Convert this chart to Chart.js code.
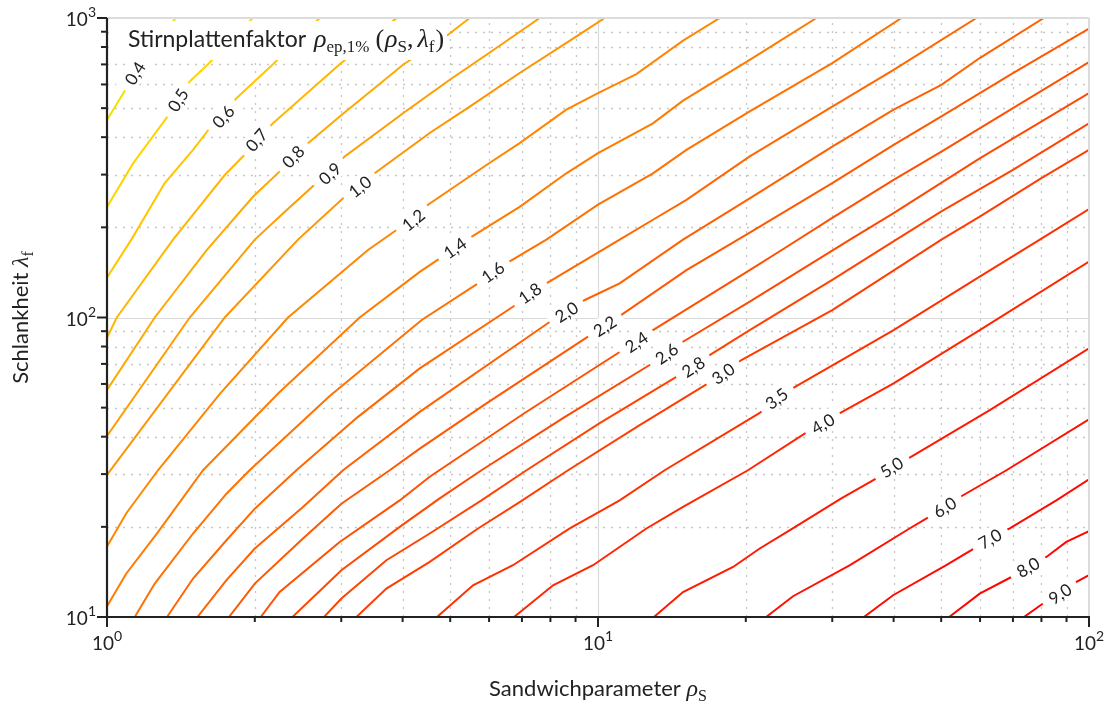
<!DOCTYPE html>
<html>
<head>
<meta charset="utf-8">
<script src="https://cdn.jsdelivr.net/npm/chart.js@4.4.1/dist/chart.umd.min.js"></script>
<style>
  html, body { margin: 0; padding: 0; background: #fff; }
</style>
</head>
<body>
<canvas id="chartStirnplatte" width="1107" height="702"></canvas>
<script>
// Höhenlinien des Stirnplattenfaktors rho_ep,1% über rho_S (x) und lambda_f (y)
const levels = [0.4, 0.5, 0.6, 0.7, 0.8, 0.9, 1.0, 1.2, 1.4, 1.6, 1.8, 2.0, 2.2, 2.4, 2.6, 2.8, 3.0, 3.5, 4.0, 5.0, 6.0, 7.0, 8.0, 9.0];
const levelLabels = levels.map(v => v.toFixed(1).replace('.', ','));

// je Linie: Paare [rho_S, lambda_f]
const iso04 = [[1, 457], [1.095, 583], [1.139, 655], [1.38, 1000]];
const iso05 = [[1, 234], [1.13, 327], [1.331, 471], [1.393, 533], [1.474, 614], [1.606, 701], [1.98, 1000]];
const iso06 = [[1, 136], [1.121, 182], [1.311, 281], [1.497, 363], [1.619, 429], [1.723, 469], [1.835, 540], [2.178, 701], [2.712, 1000]];
const iso07 = [[1, 85.6], [1.047, 100], [1.363, 182], [1.737, 299], [1.922, 354], [2.015, 392], [2.178, 445], [2.978, 701], [3.89, 1000]];
const iso08 = [[1, 57.3], [1.251, 100], [1.596, 168], [1.983, 253], [2.301, 319], [2.392, 345], [2.567, 382], [2.978, 469], [4.009, 698], [4.95, 879], [5.48, 1000]];
const iso09 = [[1, 40.2], [1.474, 100], [2.0, 182], [2.32, 228], [2.67, 281], [2.842, 303], [3.049, 345], [4.009, 481], [4.99, 622], [6.0, 764], [7.61, 1000]];
const iso10 = [[1, 29.8], [1.737, 100], [2.449, 182], [3.049, 253], [3.271, 274], [3.509, 303], [4.542, 413], [5.48, 506], [6.925, 655], [9.04, 868], [10.32, 1000]];
const iso12 = [[1, 17.2], [1.095, 22.2], [1.27, 30.9], [1.696, 55.5], [2.337, 100], [3.401, 168], [3.886, 196], [4.201, 212], [4.506, 238], [5.927, 323], [6.925, 382], [8.62, 494], [10.0, 561], [11.97, 650], [14.9, 840], [17.7, 1000]];
const iso14 = [[1, 10.86], [1.095, 13.97], [1.27, 19.2], [1.569, 30.9], [2.247, 56.4], [3.271, 100], [4.335, 142], [4.722, 156], [5.108, 171], [5.524, 186], [6.925, 234], [8.62, 303], [10.0, 354], [12.94, 445], [14.9, 530], [20.37, 725], [27.86, 1000]];
const iso16 = [[1.139, 10], [1.251, 12.93], [1.497, 19.0], [1.751, 25.8], [1.952, 30.9], [2.842, 54.7], [4.375, 98.1], [5.697, 130], [6.10, 142], [6.61, 154], [7.85, 182], [10.0, 238], [12.94, 303], [15.14, 363], [20.37, 488], [30.0, 707], [41.5, 1000]];
const iso18 = [[1.325, 10], [1.497, 13.44], [1.751, 18.04], [2.0, 23.0], [2.431, 30.9], [3.24, 46.5], [4.335, 67.6], [6.71, 108.6], [7.26, 120.8], [7.85, 130], [11.07, 182], [12.94, 212], [15.14, 247], [20.37, 345], [30.0, 506], [40.0, 671], [59.0, 1000]];
const iso20 = [[1.528, 10], [1.751, 13.27], [2.0, 16.93], [2.507, 23.3], [3.025, 30.9], [4.335, 48.4], [7.97, 96.6], [8.62, 104.6], [9.40, 114.4], [11.07, 130], [14.9, 182], [20.37, 250], [30.0, 372], [40.0, 494], [50.05, 598], [59.9, 735], [80.9, 1000]];
const iso22 = [[1.772, 10], [2.0, 12.93], [2.507, 18.28], [3.002, 23.9], [3.765, 30.9], [4.335, 36.5], [5.927, 51.7], [9.54, 86.3], [10.32, 93.7], [11.16, 102], [15.14, 144], [20.37, 192], [30.0, 281], [40.0, 377], [50.05, 469], [70.0, 655], [100, 921]];
const iso24 = [[2.056, 10], [2.247, 12.12], [2.978, 17.81], [3.946, 24.5], [4.542, 29.4], [7.09, 48.0], [11.07, 76.7], [11.97, 83.0], [12.94, 90.8], [20.37, 144], [23.8, 169], [30.0, 215], [40.0, 288], [50.05, 358], [70.0, 500], [100, 713]];
const iso26 = [[2.386, 10], [3.002, 14.32], [3.946, 20.0], [4.76, 24.9], [5.79, 30.9], [8.55, 46.5], [12.74, 69.4], [13.78, 75.9], [14.9, 83.0], [20.37, 112.9], [32.6, 182], [40.0, 223], [59.9, 340], [100, 561]];
const iso28 = [[2.767, 10], [3.002, 11.52], [3.707, 15.47], [4.542, 19.0], [5.79, 24.5], [7.15, 30.9], [10.08, 44.4], [14.44, 63.4], [15.62, 68.5], [16.88, 74.9], [20.37, 90.8], [30.0, 133.5], [40.5, 182], [50.05, 226], [70.0, 311], [100, 445]];
const iso30 = [[3.221, 10], [3.707, 12.44], [4.542, 15.27], [5.697, 19.75], [6.925, 24.2], [8.69, 30.9], [12.16, 43.7], [16.75, 60.3], [17.97, 65.1], [19.59, 72.1], [30.0, 105.9], [50.05, 182], [59.9, 217], [80.0, 292], [100, 363]];
const iso35 = [[4.70, 10], [5.565, 12.76], [6.71, 14.89], [8.76, 19.75], [11.07, 24.5], [13.67, 30.9], [21.35, 48.0], [23.09, 53.7], [25.2, 58.7], [40.0, 90.8], [59.9, 136.9], [79.4, 182], [100, 230]];
const iso40 = [[6.745, 10], [8.10, 12.76], [9.77, 14.89], [12.55, 19.75], [14.9, 23.3], [20.2, 30.9], [26.4, 41.0], [28.7, 44.3], [31.1, 47.9], [40.0, 60.3], [59.9, 90.8], [100, 153.7]];
const iso50 = [[13.0, 10], [14.9, 12.12], [18.84, 14.69], [21.35, 16.93], [24.6, 19.5], [31.3, 24.9], [36.6, 28.8], [39.6, 31.7], [42.8, 33.8], [62.8, 49.1], [100, 78.9]];
const iso60 = [[22.0, 10], [24.96, 11.73], [32.6, 14.89], [43.1, 19.75], [46.6, 21.3], [50.8, 23.3], [55.4, 25.5], [67.9, 30.9], [100, 45.7]];
const iso70 = [[34.8, 10], [39.9, 11.82], [51.2, 14.89], [57.6, 16.71], [62.8, 18.28], [68.96, 19.75], [85.8, 24.5], [100, 28.8]];
const iso80 = [[51.9, 10], [59.9, 11.97], [69.5, 13.6], [75.1, 14.69], [81.9, 15.87], [89.9, 17.81], [100, 19.34]];
const iso90 = [[73.7, 10], [80.6, 11.09], [87.2, 11.97], [94.3, 13.09], [100, 13.79]];

const isolines = [iso04, iso05, iso06, iso07, iso08, iso09, iso10, iso12, iso14, iso16, iso18, iso20,
                  iso22, iso24, iso26, iso28, iso30, iso35, iso40, iso50, iso60, iso70, iso80, iso90];

// rho_S, an dem die Beschriftung der jeweiligen Linie sitzt
const labelRho = [1.139, 1.393, 1.723, 2.015, 2.392, 2.842, 3.271, 4.201, 5.108, 6.10, 7.26, 8.62,
                  10.32, 11.97, 13.78, 15.62, 17.97, 23.09, 28.7, 39.6, 50.8, 62.8, 75.1, 87.2];

// Farbverlauf gelb -> rot
const lineColors = ['#f2e100', '#ffd500', '#ffc600', '#ffb700', '#ffa900', '#ff9d00', '#ff9400', '#ff8600',
                    '#ff7b00', '#ff7100', '#ff6800', '#ff6000', '#ff5800', '#ff5000', '#ff4900', '#ff4300',
                    '#ff3d00', '#ff3000', '#ff2600', '#ff1900', '#ff1000', '#ff0a00', '#ff0500', '#ff0000'];

const xMajor = [1, 10, 100];
const yMajor = [10, 100, 1000];

const SANS = 'Lato, "DejaVu Sans", sans-serif';
const SERIF = '"Liberation Serif", "DejaVu Serif", serif';
const INK = '#222';

// Text aus mehreren Stücken (Schrift/Hoch-/Tiefstellung) zeichnen
function drawRich(ctx, parts, x, y, align) {
    let total = 0;
    parts.forEach(p => { ctx.font = p.font; p.w = ctx.measureText(p.t).width + (p.gap || 0); total += p.w; });
    let cx = align === 'center' ? x - total / 2 : (align === 'right' ? x - total : x);
    ctx.textAlign = 'left';
    ctx.textBaseline = 'alphabetic';
    parts.forEach(p => { ctx.font = p.font; ctx.fillText(p.t, cx, y + (p.dy || 0)); cx += p.w; });
}

function line(ctx, x1, y1, x2, y2) {
    ctx.beginPath();
    ctx.moveTo(x1, y1);
    ctx.lineTo(x2, y2);
    ctx.stroke();
}

// y-Pixel einer Linie an Stelle px (Linien laufen monoton in x)
function yAt(pts, px) {
    for (let i = 0; i < pts.length - 1; i++) {
        const a = pts[i], b = pts[i + 1];
        if (px >= a.x && px <= b.x) {
            return a.y + (b.y - a.y) * (px - a.x) / (b.x - a.x);
        }
    }
    return px < pts[0].x ? pts[0].y : pts[pts.length - 1].y;
}

const minorTicks = (decades) => decades.flatMap(d => [2, 3, 4, 5, 6, 7, 8, 9].map(k => k * d));

const gridPlugin = {
    id: 'gitter',
    beforeDatasetsDraw(chart) {
        const { ctx, chartArea: a, scales: { x, y } } = chart;
        ctx.save();
        // Nebengitter gepunktet
        ctx.strokeStyle = '#c6c6c6';
        ctx.lineWidth = 1.3;
        ctx.setLineDash([2, 6]);
        minorTicks([1, 10]).forEach(v => {
            const px = Math.round(x.getPixelForValue(v)) + 0.5;
            line(ctx, px, a.bottom, px, a.top);
        });
        minorTicks([10, 100]).forEach(v => {
            const py = Math.round(y.getPixelForValue(v)) + 0.5;
            line(ctx, a.left, py, a.right, py);
        });
        // Hauptgitter durchgezogen
        ctx.setLineDash([]);
        ctx.strokeStyle = '#dadada';
        ctx.lineWidth = 1.2;
        const px = Math.round(x.getPixelForValue(10)) + 0.5;
        line(ctx, px, a.top, px, a.bottom);
        const py = Math.round(y.getPixelForValue(100)) + 0.5;
        line(ctx, a.left, py, a.right, py);
        ctx.restore();
    }
};

const decorPlugin = {
    id: 'beschriftung',
    afterDatasetsDraw(chart) {
        const { ctx, chartArea: a, scales: { x, y } } = chart;
        ctx.save();

        // Linienbeschriftungen mit weißer Lücke
        ctx.font = `17px ${SANS}`;
        isolines.forEach((_, i) => {
            const pts = chart.getDatasetMeta(i).data;
            const px = x.getPixelForValue(labelRho[i]);
            const py = yAt(pts, px);
            const ang = Math.atan2(yAt(pts, px + 8) - yAt(pts, px - 8), 16);
            const w = ctx.measureText(levelLabels[i]).width;
            ctx.save();
            ctx.translate(px, py);
            ctx.rotate(ang);
            ctx.fillStyle = '#fff';
            ctx.fillRect(-w / 2 - 8, -10, w + 16, 20);
            ctx.fillStyle = INK;
            ctx.textAlign = 'center';
            ctx.textBaseline = 'middle';
            ctx.fillText(levelLabels[i], 0, 1);
            ctx.restore();
        });

        // Rahmen: oben/rechts hell, links/unten schwarz
        ctx.strokeStyle = '#dcdcdc';
        ctx.lineWidth = 2;
        line(ctx, a.left, a.top, a.right, a.top);
        line(ctx, a.right, a.top, a.right, a.bottom);
        ctx.strokeStyle = INK;
        ctx.lineWidth = 2.2;
        line(ctx, a.left, a.top, a.left, a.bottom + 1);
        line(ctx, a.left - 1, a.bottom, a.right + 1, a.bottom);

        // Teilstriche
        ctx.lineWidth = 2;
        xMajor.forEach(v => { const px = x.getPixelForValue(v); line(ctx, px, a.bottom, px, a.bottom + 10); });
        minorTicks([1, 10]).forEach(v => { const px = x.getPixelForValue(v); line(ctx, px, a.bottom, px, a.bottom + 5); });
        yMajor.forEach(v => { const py = y.getPixelForValue(v); line(ctx, a.left, py, a.left - 10, py); });
        minorTicks([10, 100]).forEach(v => { const py = y.getPixelForValue(v); line(ctx, a.left, py, a.left - 6, py); });

        // Achsenzahlen 10^n
        ctx.fillStyle = INK;
        xMajor.forEach(v => {
            const e = Math.round(Math.log10(v));
            drawRich(ctx, [{ t: '10', font: `19px ${SANS}` }, { t: String(e), font: `14px ${SANS}`, dy: -9 }],
                x.getPixelForValue(v), a.bottom + 33, 'center');
        });
        yMajor.forEach(v => {
            const e = Math.round(Math.log10(v));
            drawRich(ctx, [{ t: '10', font: `19px ${SANS}` }, { t: String(e), font: `14px ${SANS}`, dy: -9 }],
                a.left - 11, y.getPixelForValue(v) + 8, 'right');
        });

        // Achsentitel
        drawRich(ctx, [
            { t: 'Sandwichparameter ', font: `22px ${SANS}` },
            { t: 'ρ', font: `italic 24px ${SERIF}` },
            { t: 'S', font: `16px ${SERIF}`, dy: 5 }
        ], (a.left + a.right) / 2, 696, 'center');

        ctx.save();
        ctx.translate(28, (a.top + a.bottom) / 2);
        ctx.rotate(-Math.PI / 2);
        drawRich(ctx, [
            { t: 'Schlankheit ', font: `22px ${SANS}` },
            { t: 'λ', font: `italic 24px ${SERIF}` },
            { t: 'f', font: `16px ${SERIF}`, dy: 5 }
        ], 0, 0, 'center');
        ctx.restore();

        // Titelkasten oben links
        ctx.fillStyle = '#fff';
        ctx.fillRect(a.left + 6, a.top + 3, 334, 39);
        ctx.fillStyle = INK;
        drawRich(ctx, [
            { t: 'Stirnplattenfaktor ', font: `23px ${SANS}`, gap: 2 },
            { t: 'ρ', font: `italic 26px ${SERIF}` },
            { t: 'ep,1%', font: `17px ${SERIF}`, dy: 5, gap: 6 },
            { t: '(', font: `26px ${SERIF}`, gap: 1 },
            { t: 'ρ', font: `italic 26px ${SERIF}` },
            { t: 'S', font: `17px ${SERIF}`, dy: 5 },
            { t: ',', font: `26px ${SERIF}`, gap: 4 },
            { t: 'λ', font: `italic 26px ${SERIF}` },
            { t: 'f', font: `17px ${SERIF}`, dy: 5, gap: 1 },
            { t: ')', font: `26px ${SERIF}` }
        ], a.left + 21, a.top + 29, 'left');

        ctx.restore();
    }
};

const ctx = document.getElementById('chartStirnplatte');
window.chartStirnplatte = new Chart(ctx, {
    type: 'scatter',
    data: {
        datasets: isolines.map((pts, i) => ({
            label: levelLabels[i],
            data: pts.map(([r, l]) => ({ x: r, y: l })),
            showLine: true,
            borderColor: lineColors[i],
            borderWidth: 2,
            pointRadius: 0,
            pointHoverRadius: 0,
            fill: false
        }))
    },
    options: {
        responsive: false,
        animation: false,
        events: [],
        layout: { padding: { left: 107, right: 18, top: 18, bottom: 85 } },
        scales: {
            x: { type: 'logarithmic', min: 1, max: 100, display: false },
            y: { type: 'logarithmic', min: 10, max: 1000, display: false }
        },
        plugins: {
            legend: { display: false },
            tooltip: { enabled: false }
        }
    },
    plugins: [gridPlugin, decorPlugin]
});
</script>
</body>
</html>
